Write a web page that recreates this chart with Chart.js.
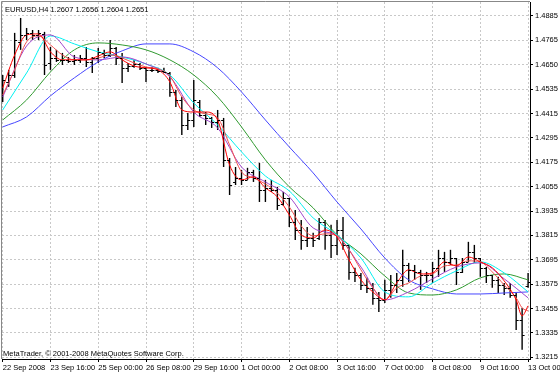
<!DOCTYPE html>
<html>
<head>
<meta charset="utf-8">
<title>EURUSD,H4</title>
<script src="https://cdn.jsdelivr.net/npm/chart.js@4.4.0/dist/chart.umd.min.js"></script>
<style>
    html, body { margin: 0; padding: 0; background: #fff; }
    #chart { display: block; }
</style>
</head>
<body>
<canvas id="chart" width="560" height="373"></canvas>
<script>
/////////////
// Data
// Bar 0 = 22 Sep 2008 08:00, one bar every 4 hours (weekends skipped)
var barOpen = [1.4474, 1.4562, 1.4596, 1.4758, 1.4792, 1.4802, 1.4792, 1.4797, 1.4655, 1.4679,
    1.4670, 1.4670, 1.4665, 1.4670, 1.4679, 1.4660, 1.4679, 1.4704, 1.4694, 1.4728,
    1.4679, 1.4631, 1.4640, 1.4650, 1.4631, 1.4621, 1.4621, 1.4616, 1.4606, 1.4513,
    1.4474, 1.4352, 1.4376, 1.4464, 1.4401, 1.4386, 1.4366, 1.4376, 1.4181, 1.4073,
    1.4093, 1.4083, 1.4122, 1.4093, 1.4034, 1.4044, 1.4034, 1.3966, 1.3995, 1.3877,
    1.3838, 1.3789, 1.3799, 1.3799, 1.3877, 1.3814, 1.3765, 1.3838, 1.3765, 1.3633,
    1.3618, 1.3569, 1.3555, 1.3506, 1.3496, 1.3545, 1.3569, 1.3594, 1.3667, 1.3643,
    1.3633, 1.3618, 1.3618, 1.3653, 1.3701, 1.3682, 1.3701, 1.3633, 1.3682, 1.3731,
    1.3701, 1.3653, 1.3618, 1.3594, 1.3569, 1.3555, 1.3520, 1.3398, 1.3565];
var barHigh = [1.4596, 1.4621, 1.4802, 1.4875, 1.4826, 1.4816, 1.4816, 1.4807, 1.4733, 1.4719,
    1.4704, 1.4684, 1.4694, 1.4694, 1.4733, 1.4684, 1.4728, 1.4719, 1.4767, 1.4733,
    1.4704, 1.4655, 1.4670, 1.4655, 1.4635, 1.4635, 1.4631, 1.4631, 1.4611, 1.4523,
    1.4489, 1.4410, 1.4572, 1.4474, 1.4415, 1.4391, 1.4425, 1.4386, 1.4190, 1.4146,
    1.4132, 1.4142, 1.4132, 1.4166, 1.4083, 1.4083, 1.4049, 1.4024, 1.3995, 1.3936,
    1.3887, 1.3853, 1.3824, 1.3897, 1.3887, 1.3863, 1.3887, 1.3902, 1.3765, 1.3653,
    1.3628, 1.3604, 1.3579, 1.3535, 1.3594, 1.3618, 1.3628, 1.3741, 1.3677, 1.3667,
    1.3643, 1.3633, 1.3682, 1.3741, 1.3731, 1.3741, 1.3701, 1.3701, 1.3780, 1.3765,
    1.3701, 1.3657, 1.3618, 1.3609, 1.3579, 1.3579, 1.3530, 1.3457, 1.3628];
var barLow = [1.4464, 1.4538, 1.4582, 1.4719, 1.4767, 1.4767, 1.4767, 1.4596, 1.4621, 1.4660,
    1.4645, 1.4655, 1.4645, 1.4655, 1.4635, 1.4606, 1.4655, 1.4679, 1.4684, 1.4645,
    1.4557, 1.4611, 1.4631, 1.4621, 1.4562, 1.4611, 1.4606, 1.4606, 1.4489, 1.4440,
    1.4303, 1.4327, 1.4342, 1.4391, 1.4352, 1.4337, 1.4327, 1.4146, 1.4009, 1.4058,
    1.4058, 1.4083, 1.4073, 1.3975, 1.3975, 1.4024, 1.3936, 1.3956, 1.3853, 1.3789,
    1.3741, 1.3755, 1.3755, 1.3789, 1.3741, 1.3701, 1.3716, 1.3741, 1.3594, 1.3584,
    1.3545, 1.3530, 1.3472, 1.3437, 1.3481, 1.3506, 1.3530, 1.3560, 1.3584, 1.3594,
    1.3545, 1.3579, 1.3579, 1.3609, 1.3633, 1.3667, 1.3569, 1.3628, 1.3682, 1.3677,
    1.3609, 1.3579, 1.3555, 1.3530, 1.3520, 1.3506, 1.3349, 1.3252, 1.3555];
var barClose = [1.4572, 1.4596, 1.4767, 1.4792, 1.4802, 1.4792, 1.4802, 1.4645, 1.4679, 1.4670,
    1.4670, 1.4665, 1.4670, 1.4679, 1.4660, 1.4679, 1.4709, 1.4694, 1.4728, 1.4679,
    1.4631, 1.4640, 1.4650, 1.4631, 1.4621, 1.4621, 1.4616, 1.4611, 1.4513, 1.4474,
    1.4352, 1.4376, 1.4474, 1.4401, 1.4386, 1.4366, 1.4376, 1.4181, 1.4058, 1.4093,
    1.4083, 1.4122, 1.4093, 1.4034, 1.4044, 1.4034, 1.3961, 1.3995, 1.3877, 1.3838,
    1.3789, 1.3799, 1.3789, 1.3877, 1.3814, 1.3765, 1.3838, 1.3765, 1.3633, 1.3618,
    1.3569, 1.3555, 1.3506, 1.3496, 1.3545, 1.3569, 1.3594, 1.3667, 1.3643, 1.3633,
    1.3618, 1.3618, 1.3653, 1.3701, 1.3682, 1.3701, 1.3633, 1.3682, 1.3731, 1.3701,
    1.3653, 1.3618, 1.3594, 1.3569, 1.3555, 1.3520, 1.3398, 1.3325, 1.3584];

// Moving averages, read at every 2nd bar (fast) and every 4th bar (slow)
var fastBars = [0, 2, 4, 6, 8, 10, 12, 14, 16, 18, 20, 22, 24, 26, 28, 30, 32, 34, 36, 38,
    40, 42, 44, 46, 48, 50, 52, 54, 56, 58, 60, 62, 64, 66, 68, 70, 72, 74, 76, 78,
    80, 82, 84, 86, 87, 88];
var maRed = [1.4533, 1.4694, 1.4792, 1.4797, 1.4709, 1.4670, 1.4670, 1.4670, 1.4689, 1.4709,
    1.4670, 1.4640, 1.4631, 1.4621, 1.4562, 1.4425, 1.4415, 1.4415, 1.4376, 1.4156,
    1.4083, 1.4098, 1.4044, 1.4000, 1.3912, 1.3814, 1.3799, 1.3838, 1.3804, 1.3692,
    1.3594, 1.3535, 1.3496, 1.3579, 1.3643, 1.3623, 1.3628, 1.3682, 1.3662, 1.3706,
    1.3682, 1.3653, 1.3589, 1.3496, 1.3418, 1.3467];
var maTomato = [1.4498, 1.4621, 1.4758, 1.4787, 1.4743, 1.4694, 1.4670, 1.4670, 1.4679, 1.4694,
    1.4679, 1.4655, 1.4635, 1.4626, 1.4591, 1.4489, 1.4425, 1.4406, 1.4386, 1.4254,
    1.4122, 1.4093, 1.4063, 1.4019, 1.3951, 1.3858, 1.3809, 1.3819, 1.3809, 1.3741,
    1.3643, 1.3555, 1.3496, 1.3555, 1.3579, 1.3613, 1.3623, 1.3662, 1.3667, 1.3687,
    1.3682, 1.3633, 1.3569, 1.3506, 1.3457, 1.3442];

var slowBars = [0, 4, 8, 12, 16, 20, 24, 28, 32, 36, 40, 44, 48, 52, 56, 60, 64, 68, 72, 76, 80, 84, 88];
var maOrchid = [1.4489, 1.4738, 1.4792, 1.4684, 1.4670, 1.4684, 1.4650, 1.4587, 1.4415, 1.4337,
    1.4146, 1.4073, 1.4000, 1.3848, 1.3809, 1.3657, 1.3496, 1.3535, 1.3599, 1.3657,
    1.3677, 1.3599, 1.3506];
var maAqua = [1.4425, 1.4606, 1.4787, 1.4748, 1.4709, 1.4684, 1.4650, 1.4596, 1.4459, 1.4352,
    1.4220, 1.4102, 1.4029, 1.3897, 1.3814, 1.3701, 1.3535, 1.3511, 1.3579, 1.3638,
    1.3682, 1.3628, 1.3535];
var maGreen = [1.4376, 1.4474, 1.4611, 1.4719, 1.4753, 1.4743, 1.4719, 1.4670, 1.4596, 1.4489,
    1.4342, 1.4181, 1.4049, 1.3946, 1.3814, 1.3721, 1.3613, 1.3530, 1.3520, 1.3545,
    1.3604, 1.3623, 1.3594];
var maBlue = [1.4342, 1.4391, 1.4494, 1.4582, 1.4660, 1.4714, 1.4748, 1.4748, 1.4709, 1.4631,
    1.4513, 1.4376, 1.4244, 1.4117, 1.3975, 1.3843, 1.3701, 1.3594, 1.3550, 1.3525,
    1.3525, 1.3530, 1.3535];

// Axis labels
var timeTickBars = [0, 8, 16, 24, 32, 40, 48, 56, 64, 72, 80, 88];
var timeTickLabels = ['22 Sep 2008', '23 Sep 16:00', '25 Sep 00:00', '26 Sep 08:00', '29 Sep 16:00',
    '1 Oct 00:00', '2 Oct 08:00', '3 Oct 16:00', '7 Oct 00:00', '8 Oct 08:00', '9 Oct 16:00', '13 Oct 00:00'];
var priceTickLabels = ['1.3215', '1.3335', '1.3455', '1.3575', '1.3695', '1.3815', '1.3935', '1.4055',
    '1.4175', '1.4295', '1.4415', '1.4535', '1.4650', '1.4765', '1.4885'];
var priceTickFirst = 1.3215, priceTickLast = 1.4885;

var symbolText = 'EURUSD,H4';
var quoteText = ['1.2607', '1.2656', '1.2604', '1.2651'];// O H L C of the current bar
var copyrightText = 'MetaTrader, \u00a9 2001-2008 MetaQuotes Software Corp.';

var textFont = '"Liberation Sans", Arial, sans-serif';

function points(xs, ys) {
    return xs.map(function (x, i) { return { x: x, y: ys[i] }; });
}

function maLine(label, xs, ys, color) {
    return {
        type: 'line',
        label: label,
        data: points(xs, ys),
        borderColor: color,
        borderWidth: 1,
        pointRadius: 0,
        fill: false,
        cubicInterpolationMode: 'monotone',
        order: 0
    };
}

// Open / close ticks of the bar chart, placed through the chart scales
var ohlcTicks = {
    id: 'ohlcTicks',
    afterDatasetsDraw: function (chart) {
        var ctx = chart.ctx, area = chart.chartArea;
        var xs = chart.scales.x, ys = chart.scales.y;
        ctx.save();
        ctx.beginPath();
        ctx.rect(area.left, area.top, area.right - area.left, area.bottom - area.top);
        ctx.clip();
        ctx.strokeStyle = '#000';
        ctx.lineWidth = 1;
        ctx.beginPath();
        barOpen.forEach(function (o, i) {
            var px = xs.getPixelForValue(i);
            var po = Math.round(ys.getPixelForValue(o)) + 0.5;
            var pc = Math.round(ys.getPixelForValue(barClose[i])) + 0.5;
            ctx.moveTo(px - 2.5, po); ctx.lineTo(px, po);
            ctx.moveTo(px, pc); ctx.lineTo(px + 2.5, pc);
        });
        ctx.stroke();
        ctx.restore();
    }
};

// Terminal captions + left/top frame
var terminalText = {
    id: 'terminalText',
    afterDraw: function (chart) {
        var ctx = chart.ctx, area = chart.chartArea;
        ctx.save();
        ctx.strokeStyle = '#888';
        ctx.lineWidth = 1;
        ctx.beginPath();
        ctx.moveTo(area.left - 0.5, area.bottom);
        ctx.lineTo(area.left - 0.5, area.top - 0.5);
        ctx.lineTo(area.right, area.top - 0.5);
        ctx.stroke();

        ctx.fillStyle = '#000';
        ctx.font = '7.5px ' + textFont;
        ctx.textBaseline = 'alphabetic';
        ctx.fillText(symbolText + ' ' + quoteText.join(' '), 5, 12);
        ctx.fillText(copyrightText, 3, 356);
        ctx.restore();
    }
};

var priceStep = (priceTickLast - priceTickFirst) / (priceTickLabels.length - 1);

new Chart(document.getElementById('chart'), {
    type: 'line',
    data: {
        datasets: [
            maLine('MA fast', fastBars, maRed, '#ff0000'),
            maLine('MA 2', fastBars, maTomato, '#f25050'),
            maLine('MA 3', slowBars, maOrchid, '#a046cc'),
            maLine('MA 4', slowBars, maAqua, '#00f0f0'),
            maLine('MA 5', slowBars, maGreen, '#309a30'),
            maLine('MA 6', slowBars, maBlue, '#4646ff'),
            {
                type: 'bar',
                label: 'EURUSD',
                data: barHigh.map(function (h, i) { return { x: i, y: [barLow[i], h] }; }),
                backgroundColor: '#000',
                borderWidth: 0,
                barThickness: 1.4,
                inflateAmount: 0,
                order: 10
            }
        ]
    },
    options: {
        responsive: false,
        animation: false,
        events: [],
        layout: { padding: { left: 2, top: 2, right: 0, bottom: 0 } },
        plugins: {
            legend: { display: false },
            tooltip: { enabled: false },
            title: { display: false }
        },
        scales: {
            x: {
                type: 'linear',
                min: -0.12,
                max: 88.32,
                offset: false,
                grid: {
                    offset: false,
                    color: '#c8c8c8',
                    tickColor: '#000',
                    tickLength: 3
                },
                border: { color: '#000', width: 1, dash: [2, 2] },
                ticks: {
                    autoSkip: false,
                    maxRotation: 0,
                    minRotation: 0,
                    align: 'start',
                    padding: 1,
                    color: '#000',
                    font: { family: 'Liberation Sans', size: 7.5 },
                    callback: function (val, index) {
                        return timeTickLabels[index];
                    }
                },
                afterBuildTicks: function (scale) {
                    scale.ticks = timeTickBars.map(function (b) { return { value: b }; });
                },
                afterFit: function (scale) {
                    scale.height = 14;
                    scale.paddingLeft = 0;
                    scale.paddingRight = 0;
                }
            },
            y: {
                type: 'linear',
                position: 'right',
                min: 1.3207,
                max: 1.4953,
                beginAtZero: false,
                grid: {
                    color: '#c8c8c8',
                    tickColor: '#000',
                    tickLength: 3
                },
                border: { color: '#000', width: 1, dash: [2, 2] },
                ticks: {
                    padding: 2,
                    color: '#000',
                    font: { family: 'Liberation Sans', size: 7.5 },
                    callback: function (val, index) {
                        return priceTickLabels[index];
                    }
                },
                afterBuildTicks: function (scale) {
                    scale.ticks = priceTickLabels.map(function (t, k) {
                        return { value: priceTickFirst + k * priceStep };
                    });
                },
                afterFit: function (scale) {
                    scale.width = 30;
                    scale.paddingTop = 0;
                    scale.paddingBottom = 0;
                }
            }
        }
    },
    plugins: [ohlcTicks, terminalText]
});
</script>
</body>
</html>
